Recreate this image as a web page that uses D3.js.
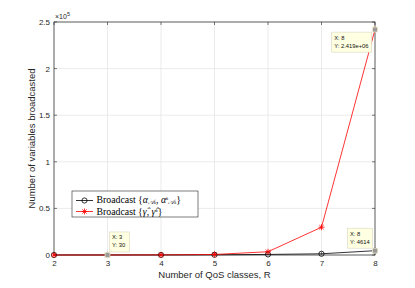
<!DOCTYPE html>
<html><head><meta charset="utf-8">
<script src="https://cdn.jsdelivr.net/npm/d3@7"></script>
<style>body{margin:0;background:#fff}svg{display:block}</style>
</head><body>
<script>
const xValues = [2, 3, 4, 5, 6, 7, 8];
const seriesAlpha = [11, 30, 82, 224, 612, 1300, 4614];
const seriesGamma = [4, 30, 90, 600, 3500, 29800, 241900];
const xTicks = [2, 3, 4, 5, 6, 7, 8];
const yTicks = [0, 50000, 100000, 150000, 200000, 250000];
const yTickLabels = ["0", "0.5", "1", "1.5", "2", "2.5"];
const tips = [
  {series: "alpha", x: 3, y: 30, l1: "X: 3", l2: "Y: 30", pos: "tr"},
  {series: "alpha", x: 8, y: 4614, l1: "X: 8", l2: "Y: 4614", pos: "tl"},
  {series: "gamma", x: 8, y: 241900, l1: "X: 8", l2: "Y: 2.419e+06", pos: "bl"}
];

const W = 415, H = 288;
const svg = d3.select("body").append("svg").attr("width", W).attr("height", H);
const x = d3.scaleLinear().domain([2, 8]).range([54, 375]);
const y = d3.scaleLinear().domain([0, 250000]).range([255, 22]);
const sans = "Liberation Sans, Arial, sans-serif";

// grid
svg.append("g").selectAll("line").data(xTicks).join("line")
  .attr("x1", d => x(d)).attr("x2", d => x(d)).attr("y1", y(0)).attr("y2", y(250000))
  .attr("stroke", "#e6e6e6").attr("stroke-width", 0.8);
svg.append("g").selectAll("line").data(yTicks).join("line")
  .attr("x1", x(2)).attr("x2", x(8)).attr("y1", d => y(d)).attr("y2", d => y(d))
  .attr("stroke", "#e6e6e6").attr("stroke-width", 0.8);

// axes
const xAxis = d3.axisBottom(x).tickValues(xTicks).tickSize(0).tickPadding(5).tickFormat(d3.format("d"));
const gx = svg.append("g").attr("transform", `translate(0,${y(0)})`).call(xAxis);
gx.select(".domain").remove();
gx.selectAll("text").attr("font-family", sans).attr("font-size", 8).attr("fill", "#262626");

const yAxis = d3.axisLeft(y).tickValues(yTicks).tickSize(0).tickPadding(4).tickFormat((d, i) => yTickLabels[i]);
const gy = svg.append("g").attr("transform", `translate(${x(2)},0)`).call(yAxis);
gy.select(".domain").remove();
gy.selectAll("text").attr("font-family", sans).attr("font-size", 8).attr("fill", "#262626");

// inner ticks
const tk = svg.append("g").attr("stroke", "#262626").attr("stroke-width", 0.6);
xTicks.forEach(t => {
  tk.append("line").attr("x1", x(t)).attr("x2", x(t)).attr("y1", y(0)).attr("y2", y(0) - 3);
  tk.append("line").attr("x1", x(t)).attr("x2", x(t)).attr("y1", y(250000)).attr("y2", y(250000) + 3);
});
yTicks.forEach(t => {
  tk.append("line").attr("x1", x(2)).attr("x2", x(2) + 3).attr("y1", y(t)).attr("y2", y(t));
  tk.append("line").attr("x1", x(8)).attr("x2", x(8) - 3).attr("y1", y(t)).attr("y2", y(t));
});
svg.append("rect").attr("x", x(2)).attr("y", y(250000)).attr("width", x(8) - x(2)).attr("height", y(0) - y(250000))
  .attr("fill", "none").attr("stroke", "#262626").attr("stroke-width", 0.7);

// exponent
const ex = svg.append("text").attr("x", x(2) + 1).attr("y", 19).attr("font-family", sans).attr("font-size", 7).attr("fill", "#262626");
ex.append("tspan").text("\u00d710");
ex.append("tspan").attr("dy", -3).attr("font-size", 5.5).text("5");

// labels
svg.append("text").attr("x", (x(2) + x(8)) / 2).attr("y", 278).attr("text-anchor", "middle")
  .attr("font-family", sans).attr("font-size", 9.5).attr("fill", "#262626").text("Number of QoS classes, R");
svg.append("text").attr("transform", `translate(35,${(y(0) + y(250000)) / 2}) rotate(-90)`).attr("text-anchor", "middle")
  .attr("font-family", sans).attr("font-size", 9.5).attr("fill", "#262626").text("Number of variables broadcasted");

// lines
const line = d3.line().x((d, i) => x(xValues[i])).y(d => y(d));
svg.append("path").datum(seriesAlpha).attr("d", line).attr("fill", "none").attr("stroke", "#000").attr("stroke-width", 0.8);
svg.append("path").datum(seriesGamma).attr("d", line).attr("fill", "none").attr("stroke", "#ff0000").attr("stroke-width", 0.8);

function star(g, cx, cy, r) {
  const s = g.append("g").attr("stroke", "#ff0000").attr("stroke-width", 0.8);
  s.append("line").attr("x1", cx - r).attr("x2", cx + r).attr("y1", cy).attr("y2", cy);
  s.append("line").attr("x1", cx).attr("x2", cx).attr("y1", cy - r).attr("y2", cy + r);
  const q = r * 0.72;
  s.append("line").attr("x1", cx - q).attr("x2", cx + q).attr("y1", cy - q).attr("y2", cy + q);
  s.append("line").attr("x1", cx - q).attr("x2", cx + q).attr("y1", cy + q).attr("y2", cy - q);
}
const mk = svg.append("g");
seriesAlpha.forEach((v, i) => {
  mk.append("circle").attr("cx", x(xValues[i])).attr("cy", y(v)).attr("r", 2.6)
    .attr("fill", "none").attr("stroke", "#000").attr("stroke-width", 0.8);
});
seriesGamma.forEach((v, i) => star(mk, x(xValues[i]), y(v), 3));

// data tips
tips.forEach(t => {
  const px = x(t.x), py = y(t.y);
  const g = svg.append("g");
  const w = t.l2.length > 8 ? 40 : (t.series === "alpha" && t.x === 8 ? 25 : 20), h = 20;
  let bx, by;
  if (t.pos === "tr") { bx = px + 2; by = py - 23; }
  else if (t.pos === "tl") { bx = px - w - 2.5; by = py - 22.5; }
  else { bx = px - w - 3.3; by = py + 2.6; }
  g.append("rect").attr("x", bx).attr("y", by).attr("width", w).attr("height", h)
    .attr("fill", "#ffffe1").attr("stroke", "#d9d6c0").attr("stroke-width", 0.6);
  g.append("text").attr("x", bx + 2.5).attr("y", by + 7.5).attr("font-family", sans).attr("font-size", 5.8).attr("fill", "#111").text(t.l1);
  g.append("text").attr("x", bx + 2.5).attr("y", by + 15.5).attr("font-family", sans).attr("font-size", 5.8).attr("fill", "#111").text(t.l2);
  g.append("rect").attr("x", px - 2.5).attr("y", py - 2.5).attr("width", 5).attr("height", 5)
    .attr("fill", "#9a9a9a").attr("stroke", "#f4f0d0").attr("stroke-width", 0.8);
});

// legend
const lg = svg.append("g");
lg.append("rect").attr("x", 72).attr("y", 191).attr("width", 126).attr("height", 26)
  .attr("fill", "#fff").attr("stroke", "#262626").attr("stroke-width", 0.6);
const serif = "Liberation Serif, Times New Roman, serif";
lg.append("line").attr("x1", 76).attr("x2", 93).attr("y1", 200.5).attr("y2", 200.5).attr("stroke", "#000").attr("stroke-width", 0.8);
lg.append("circle").attr("cx", 84.5).attr("cy", 200.5).attr("r", 2.6).attr("fill", "none").attr("stroke", "#000").attr("stroke-width", 0.8);
lg.append("line").attr("x1", 76).attr("x2", 93).attr("y1", 211.5).attr("y2", 211.5).attr("stroke", "#ff0000").attr("stroke-width", 0.8);
star(lg, 84.5, 211.5, 3);
const t1 = lg.append("text").attr("x", 96.5).attr("y", 203.2).attr("font-family", serif).attr("font-size", 9.8).attr("fill", "#000");
t1.append("tspan").text("Broadcast {");
t1.append("tspan").attr("font-style", "italic").text("\u03b1");
t1.append("tspan").attr("font-size", 6.5).attr("font-style", "italic").attr("dy", 1.2).text("\ud835\udc9c");
t1.append("tspan").attr("font-size", 4.5).attr("font-style", "italic").text("k");
t1.append("tspan").attr("dy", -1.2).text(", ");
t1.append("tspan").attr("font-style", "italic").text("\u03b1");
t1.append("tspan").attr("font-size", 5).attr("font-style", "italic").attr("dy", -3).text("k");
t1.append("tspan").attr("font-size", 6.5).attr("font-style", "italic").attr("dy", 4.2).text("\ud835\udc9c");
t1.append("tspan").attr("font-size", 4.5).attr("font-style", "italic").text("k");
t1.append("tspan").attr("dy", -1.2).text("}");
const t2 = lg.append("text").attr("x", 96.5).attr("y", 215).attr("font-family", serif).attr("font-size", 9.8).attr("fill", "#000");
t2.append("tspan").text("Broadcast {");
t2.append("tspan").attr("font-style", "italic").text("\u03b3\u0302");
t2.append("tspan").text(", ");
t2.append("tspan").attr("font-style", "italic").text("\u03b3\u0302");
t2.append("tspan").attr("font-size", 5).attr("font-style", "italic").attr("dy", -3).text("k");
t2.append("tspan").attr("dy", 3).text("}");
</script>
</body></html>
